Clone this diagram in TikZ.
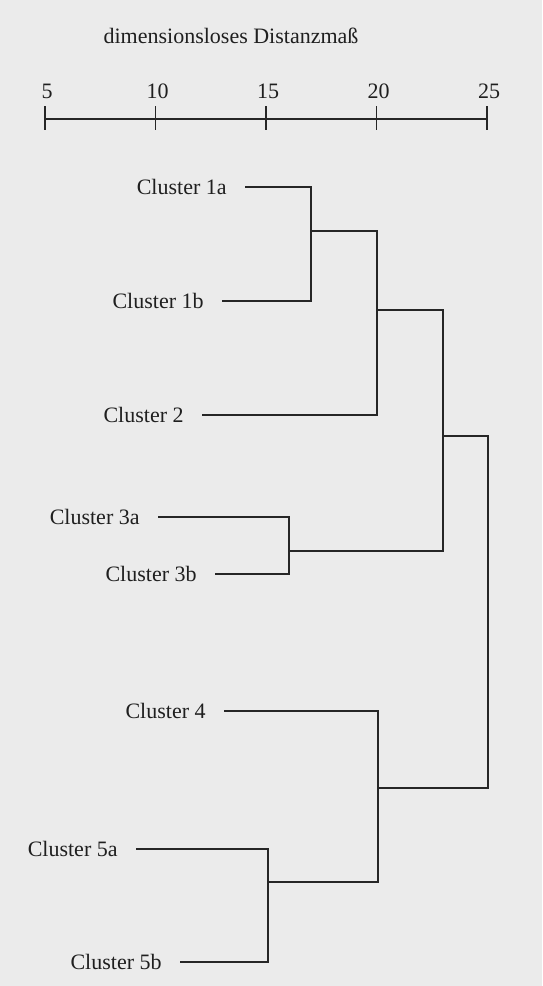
\documentclass[tikz,border=0pt]{standalone}
\usepackage{fontspec}
\setmainfont{Liberation Serif}
\begin{document}
\begin{tikzpicture}[x=0.5pt, y=-0.5pt,
	every node/.style={font=\fontsize{11}{13}\selectfont, text=black!88},
	leaf/.style={anchor=east, inner xsep=9pt, inner ysep=0pt},
	tree/.style={line width=0.6pt, color=black!85}]
			%%%%% START %%%%%
			
			\fill[black!8] (0, 0) rectangle (542, 986);
			\useasboundingbox (0, 0) rectangle (542, 986);
			
			\node[anchor=base] (titel) at (231, 43) {dimensionsloses Distanzmaß};
			
			\draw[tree] (45, 119) -- (487, 119);
			\foreach \d in {5, 10, 15, 20, 25} {
				\draw[tree] ({45 + (\d - 5) * 22.1}, 106) -- ({45 + (\d - 5) * 22.1}, 130);
				\node[anchor=base] (t\d) at ({47 + (\d - 5) * 22.1}, 98) {\d};
			}
			
			\node[leaf] (c1a) at (245, 187) {Cluster 1a};
			\node[leaf] (c1b) at (222, 301) {Cluster 1b};
			\node[leaf] (c2) at (202, 415) {Cluster 2};
			\node[leaf] (c3a) at (158, 517) {Cluster 3a};
			\node[leaf] (c3b) at (215, 574) {Cluster 3b};
			\node[leaf] (c4) at (224, 711) {Cluster 4};
			\node[leaf] (c5a) at (136, 849) {Cluster 5a};
			\node[leaf] (c5b) at (180, 962) {Cluster 5b};
			
			\coordinate (k1) at (311, 231);
			\coordinate (k12) at (377, 310);
			\coordinate (k3) at (289, 551);
			\coordinate (k123) at (443, 436);
			\coordinate (k5) at (268, 882);
			\coordinate (k45) at (378, 788);
			\coordinate (kr) at (488, 612);
			
			\draw[tree] (c1a.east) -| (k1) |- (c1b.east);
			\draw[tree] (k1) -| (k12) |- (c2.east);
			\draw[tree] (c3a.east) -| (k3) |- (c3b.east);
			\draw[tree] (k12) -| (k123) |- (k3);
			
			\draw[tree] (c5a.east) -| (k5) |- (c5b.east);
			\draw[tree] (c4.east) -| (k45) |- (k5);
			
			\draw[tree] (k123) -| (kr) |- (k45);
			
			%%%%% END %%%%%
\end{tikzpicture}
\end{document}
